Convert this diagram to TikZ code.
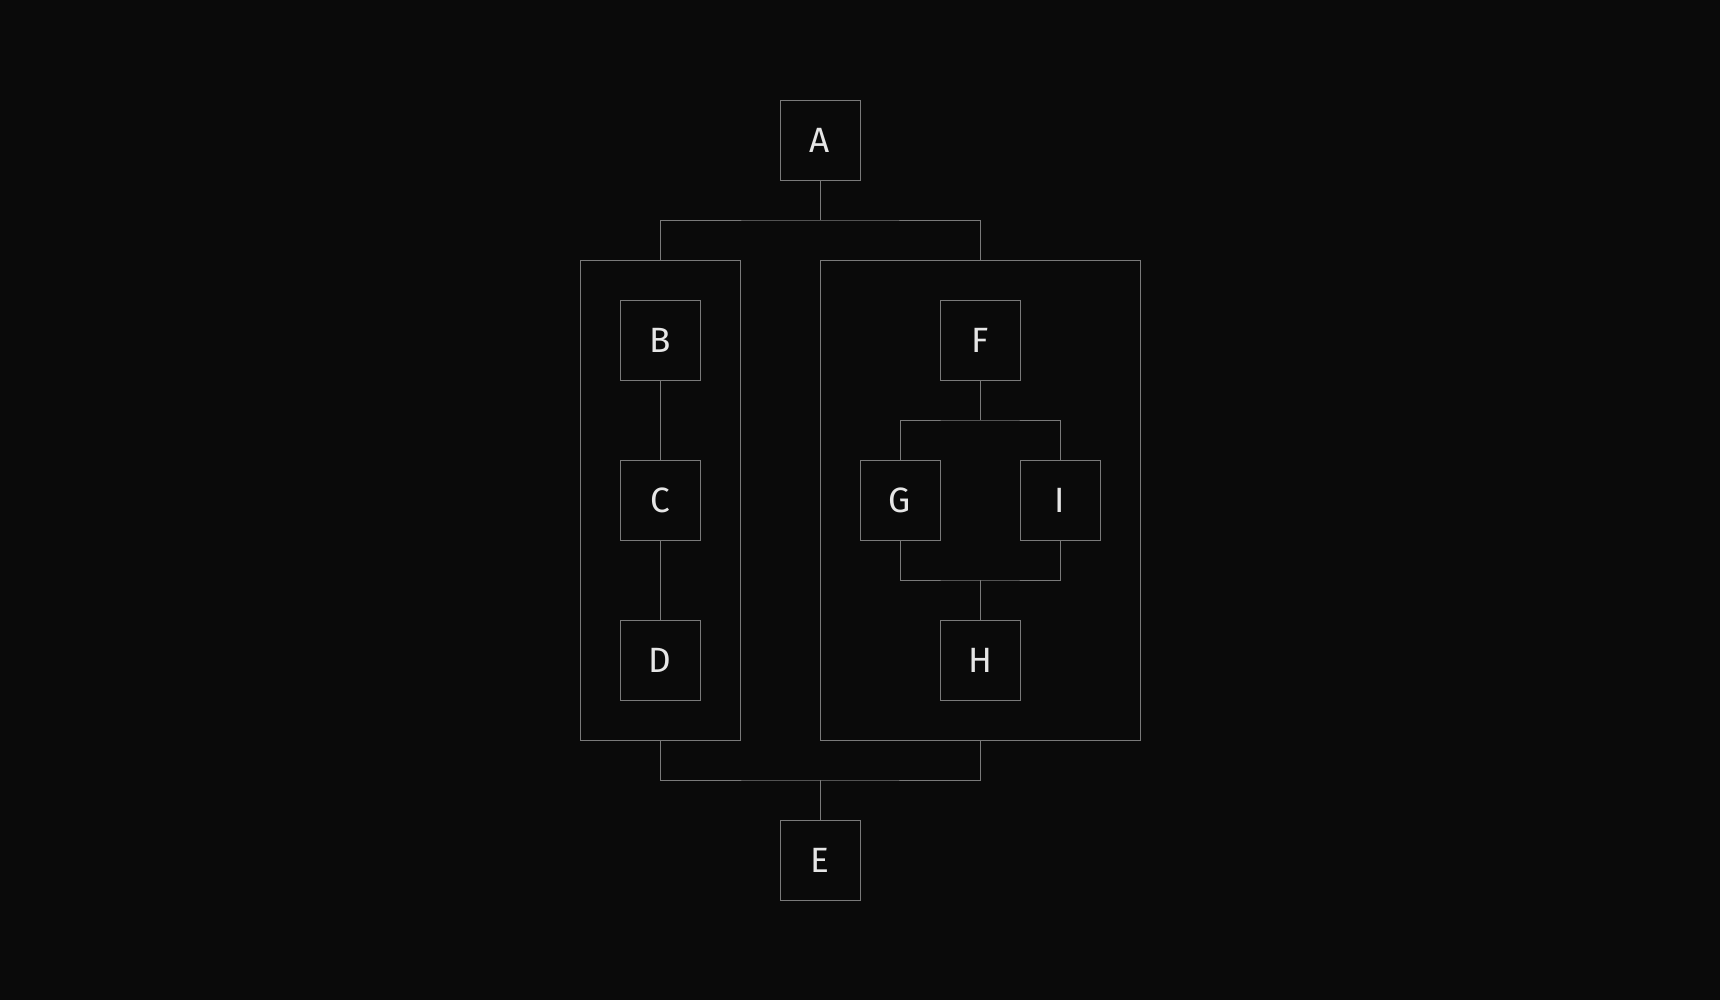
\documentclass[tikz,border=0pt]{standalone}
\usepackage{fontspec}
\setmainfont{Fira Sans}
\usepackage{xcolor}
\usetikzlibrary{positioning,calc}
\definecolor{bgdark}{HTML}{0A0A0A}
\definecolor{wire}{HTML}{7A7A7A}
\definecolor{ink}{HTML}{E6E6E6}

\begin{document}
\begin{tikzpicture}[
    x=1cm, y=1cm,
    link/.style={draw=wire, line width=0.7pt},
    blk/.style={rectangle, draw=wire, line width=0.7pt, minimum size=2cm,
                inner sep=0pt, outer sep=0pt,
                text=ink, font=\fontsize{25}{25}\selectfont},
    grp/.style={rectangle, draw=wire, line width=0.7pt, minimum height=12cm,
                inner sep=0pt, outer sep=0pt}
]
    \fill[bgdark] (0,0) rectangle (43,-25);
    \useasboundingbox (0,0) rectangle (43,-25);

    % top and bottom
    \node[blk] (A) at (20.5,-3.5) {A};
    \node[blk] (E) at (20.5,-21.5) {E};

    % the two groups
    \node[grp, minimum width=4cm] (L) at (16.5,-12.5) {};
    \node[grp, minimum width=8cm] (R) at (24.5,-12.5) {};

    % left chain
    \node[blk] (B) at (16.5,-8.5) {B};
    \node[blk, below=2cm of B] (C) {C};
    \node[blk, below=2cm of C] (D) {D};

    % right branch
    \node[blk] (F) at (24.5,-8.5) {F};
    \node[blk] (G) at (22.5,-12.5) {G};
    \node[blk] (I) at (26.5,-12.5) {I};
    \node[blk] (H) at (24.5,-16.5) {H};

    % connectors
    \draw[link] (A.south) -- ++(0,-1) coordinate (split);
    \draw[link] (L.north) |- (split) -| (R.north);
    \draw[link] (B) -- (C);
    \draw[link] (C) -- (D);
    \draw[link] (F.south) -- ++(0,-1) coordinate (fork);
    \draw[link] (G.north) |- (fork) -| (I.north);
    \draw[link] (H.north) -- ++(0,1) coordinate (join);
    \draw[link] (G.south) |- (join) -| (I.south);
    \draw[link] (E.north) -- ++(0,1) coordinate (merge);
    \draw[link] (L.south) |- (merge) -| (R.south);
\end{tikzpicture}
\end{document}
